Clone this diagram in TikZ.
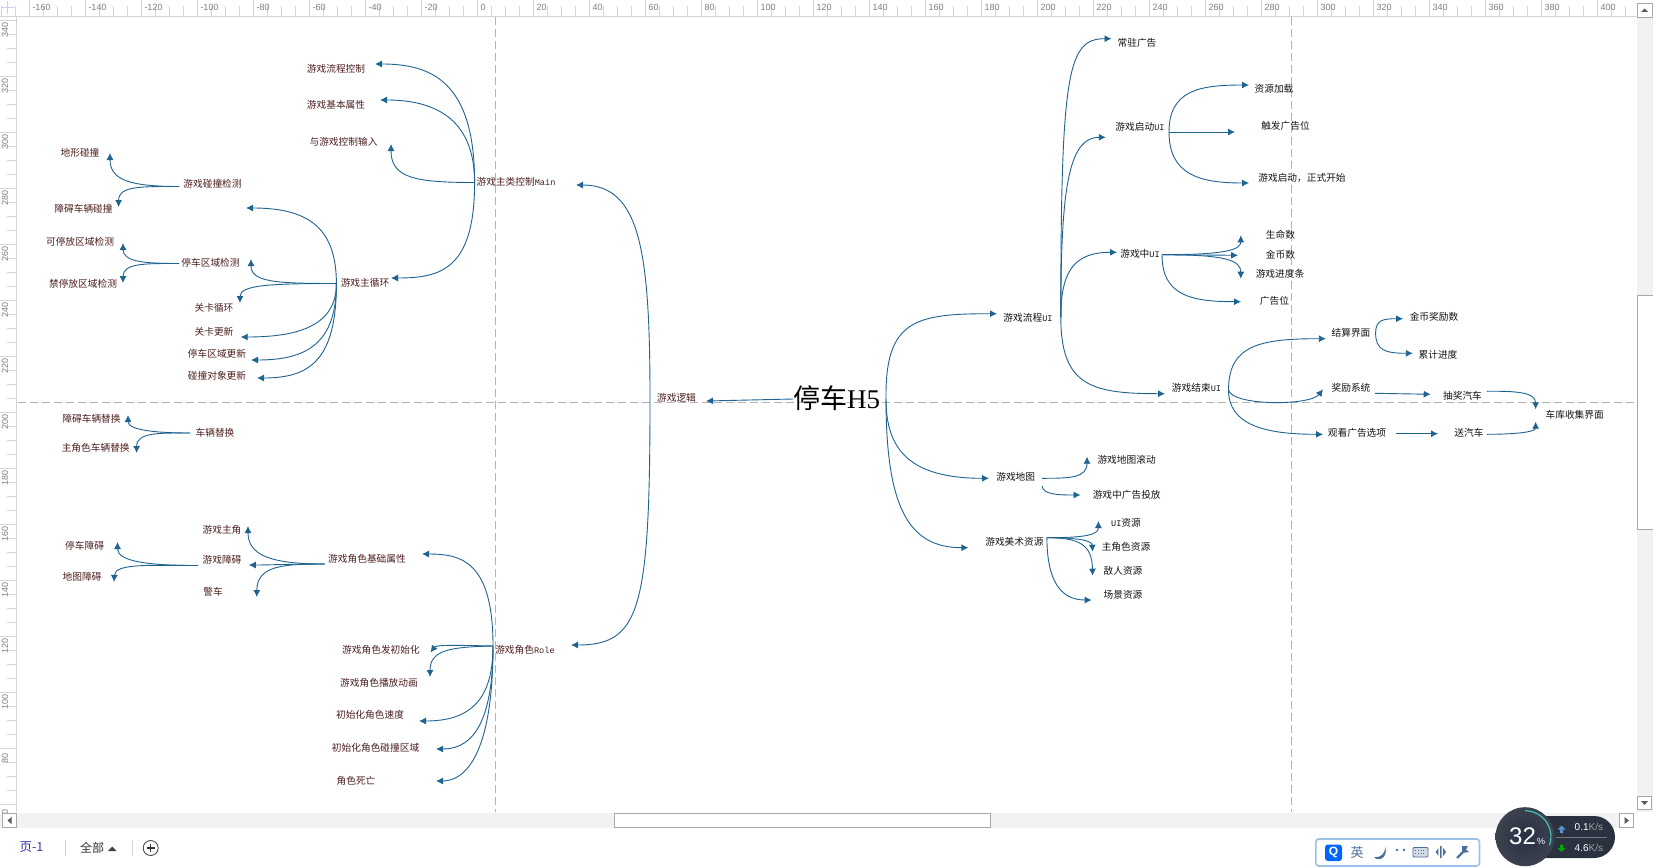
\documentclass[tikz,border=0pt]{standalone}
\usepackage{fontspec}
\usetikzlibrary{arrows.meta}
\setmainfont{Noto Sans CJK SC}
\newfontfamily\latf{Liberation Mono}
\newfontfamily\serf{Liberation Serif}
\newfontfamily\uif{Liberation Sans}
\definecolor{linkc}{HTML}{1F6391}
\definecolor{brownt}{HTML}{4D1F1F}
\definecolor{darkt}{HTML}{151515}
\definecolor{guide}{HTML}{B4B4B4}
\definecolor{rule}{HTML}{D4D4D4}
\definecolor{rulet}{HTML}{808080}
\definecolor{track}{HTML}{F2F2F2}
\definecolor{btn}{HTML}{A8A8A8}
\definecolor{imeb}{HTML}{9CC0E8}
\definecolor{imei}{HTML}{4C7099}
\definecolor{gaugeA}{HTML}{4C5262}
\definecolor{gaugeB}{HTML}{2C3140}
\tikzset{
  lblL/.style={text=brownt,inner sep=0pt,font=\fontsize{9.7}{11}\selectfont},
  lblR/.style={text=darkt,inner sep=0pt,font=\fontsize{9.7}{11}\selectfont},
  link/.style={draw=linkc,line width=0.9pt,-{Latex[length=7pt,width=7pt]}},
  guideline/.style={draw=guide,line width=0.8pt,dash pattern=on 8pt off 4pt},
  rtext/.style={text=rulet,inner sep=0pt,font=\uif\fontsize{9}{10}\selectfont},
  sbtn/.style={draw=btn,line width=0.8pt,fill=white},
  chrome/.style={inner sep=0pt}
}
\newcommand\nd[7]{\node[#1] (#2) at (#3,#4) {#5}; \coordinate (#2-in) at (#6,#7);}
\newcommand\ml[1]{{\latf\fontsize{8.6}{11}\selectfont #1}}
\begin{document}
\begin{tikzpicture}[x=1pt,y=-1pt]
\useasboundingbox (0,0) rectangle (1653,867);
\fill[white] (0,0) rectangle (1653,867);

% guides
\coordinate (gh1) at (18,402); \coordinate (gh2) at (1636,402);
\coordinate (gv1) at (495.6,17); \coordinate (gv2) at (495.6,812);
\coordinate (gw1) at (1291.5,17); \coordinate (gw2) at (1291.5,812);
\draw[guideline] (gh1) -- (gh2);
\draw[guideline] (gv1) -- (gv2);
\draw[guideline] (gw1) -- (gw2);

% rulers
\begin{scope}
\clip (0,0) rectangle (1636,16.5);
\foreach \i in {0,...,116}{\draw[rule,line width=0.8pt] ({1.3+14*\i},6) -- ({1.3+14*\i},16);}
\foreach \v in {-160,-140,...,400}{
  \draw[rule,line width=0.8pt] ({477.3+2.8*\v},0) -- ({477.3+2.8*\v},16);
  \node[rtext,anchor=west] (hx\v) at ({480.3+2.8*\v},7) {\v};
}
\end{scope}
\begin{scope}
\clip (0,17) rectangle (16.5,812);
\foreach \i in {0,...,58}{\draw[rule,line width=0.8pt] (7,{20.3+14*\i}) -- (16,{20.3+14*\i});}
\foreach \v in {340,320,...,60}{
  \draw[rule,line width=0.8pt] (0,{972.3-2.8*\v}) -- (16,{972.3-2.8*\v});
  \node[rtext,rotate=90] (vy\v) at (5,{982.3-2.8*\v}) {\v};
}
\end{scope}
\draw[rule,line width=0.9pt] (16.5,17) -- (16.5,812);
\draw[rule,line width=0.9pt] (0,16.5) -- (1636,16.5);
\draw[blue!20,line width=0.8pt] (7.5,1) -- (7.5,14) (1,7.5) -- (14,7.5);

% scrollbars
\fill[track] (1637,17) rectangle (1653,812);
\draw[sbtn] (1637.5,3) rectangle (1652,17);
\fill[gray!70!black] (1641,12) -- (1648,12) -- (1644.5,8.5) -- cycle;
\draw[sbtn] (1637.5,295) rectangle (1653,529);
\draw[sbtn] (1637.7,796) rectangle (1651.7,809.5);
\fill[gray!70!black] (1641,801) -- (1648,801) -- (1644.5,805) -- cycle;
\fill[track] (0,813) rectangle (1634,828);
\draw[sbtn] (2.5,813.5) rectangle (16.7,827.7);
\fill[gray!70!black] (11.5,817) -- (11.5,824) -- (7.5,820.5) -- cycle;
\draw[sbtn] (614.5,813.5) rectangle (990,827.7);
\draw[sbtn] (1619.7,813.5) rectangle (1633.7,827.7);
\fill[gray!70!black] (1624.5,817) -- (1624.5,824) -- (1629,820.5) -- cycle;

% root
\node[inner sep=0pt,text=black,font=\fontsize{27}{30}\selectfont] (root) at (836.5,398) {停车{\serf H5}};
\coordinate (root-l) at (793,399);
\coordinate (root-r) at (886,399);

% logic branch
\nd{lblL}{logic}{676.5}{398}{游戏逻辑}{706}{401}
\coordinate (logic-out) at (650,399);

\nd{lblL}{main}{516}{182}{游戏主类控制\ml{Main}}{576}{185}
\coordinate (main-out) at (474.6,182.5);
\nd{lblL}{flowctl}{336}{68.5}{游戏流程控制}{375}{64}
\nd{lblL}{baseattr}{336}{104.5}{游戏基本属性}{380}{100}
\nd{lblL}{input}{343.5}{142}{与游戏控制输入}{391}{144}
\nd{lblL}{loop}{365}{283}{游戏主循环}{391}{278}
\coordinate (loop-out) at (336.4,283.5);
\nd{lblL}{collide}{212.5}{184}{游戏碰撞检测}{246}{208}
\coordinate (collide-out) at (179,186.5);
\nd{lblL}{parkchk}{210.5}{263}{停车区域检测}{251}{259}
\coordinate (parkchk-out) at (179,263.5);
\nd{lblL}{lvloop}{214}{308}{关卡循环}{240}{303}
\nd{lblL}{lvupd}{214}{332}{关卡更新}{240.7}{337}
\nd{lblL}{parkupd}{217}{354}{停车区域更新}{251}{360}
\nd{lblL}{objupd}{217}{376}{碰撞对象更新}{257}{378}
\nd{lblL}{terrain}{80}{153}{地形碰撞}{110}{153}
\nd{lblL}{obscar}{83.5}{209}{障碍车辆碰撞}{118.6}{207}
\nd{lblL}{canpark}{80}{242}{可停放区域检测}{123}{243}
\nd{lblL}{nopark}{83}{284}{禁停放区域检测}{123}{283}

\coordinate (swap-out) at (190,433);
\node[lblL] (swap) at (215,433) {车辆替换};
\nd{lblL}{swapobs}{91.5}{419}{障碍车辆替换}{128}{415}
\nd{lblL}{swaphero}{95.7}{448}{主角色车辆替换}{136.6}{453}

\nd{lblL}{role}{525}{650}{游戏角色\ml{Role}}{571}{645}
\coordinate (role-out) at (493,646);
\nd{lblL}{rolebase}{367}{559}{游戏角色基础属性}{422}{554}
\coordinate (rolebase-out) at (324.5,564);
\nd{lblL}{hero}{222}{530}{游戏主角}{248}{526}
\nd{lblL}{obst}{222}{560}{游戏障碍}{248.8}{565}
\coordinate (obst-out) at (198,565.5);
\nd{lblL}{police}{213}{592}{警车}{256.8}{597}
\nd{lblL}{parkobs}{84.6}{546}{停车障碍}{117.5}{542}
\nd{lblL}{mapobs}{82}{577}{地图障碍}{114}{582}
\nd{lblL}{roleinit}{381}{650}{游戏角色发初始化}{430.5}{652.5}
\nd{lblL}{roleanim}{379}{683}{游戏角色播放动画}{430}{677}
\nd{lblL}{rolespd}{370}{715}{初始化角色速度}{419}{721}
\nd{lblL}{rolecol}{375.6}{748}{初始化角色碰撞区域}{436}{749}
\nd{lblL}{roledie}{356}{781}{角色死亡}{436}{781}

% right side
\nd{lblR}{flowui}{1028}{317.7}{游戏流程\ml{UI}}{997}{313.7}
\coordinate (flowui-out) at (1060.8,317);
\nd{lblR}{stayad}{1137}{42.7}{常驻广告}{1111.5}{38.7}
\nd{lblR}{startui}{1140}{126.7}{游戏启动\ml{UI}}{1105.8}{137.3}
\coordinate (startui-out) at (1169,132);
\nd{lblR}{resload}{1274}{88.7}{资源加载}{1249}{85}
\nd{lblR}{adtrig}{1285.5}{126}{触发广告位}{1235}{132}
\nd{lblR}{gostart}{1302}{177.7}{游戏启动，正式开始}{1249}{183}
\nd{lblR}{ingame}{1140}{253.7}{游戏中\ml{UI}}{1117}{252.3}
\coordinate (ingame-out) at (1162,254.7);
\nd{lblR}{lives}{1280.5}{235}{生命数}{1240.8}{235.3}
\nd{lblR}{coins}{1280.5}{255}{金币数}{1238}{255.3}
\nd{lblR}{progress}{1280}{274}{游戏进度条}{1240.8}{278.7}
\nd{lblR}{adslot}{1274.5}{301}{广告位}{1241}{301.7}
\nd{lblR}{endui}{1196.5}{387.7}{游戏结束\ml{UI}}{1165}{393.7}
\coordinate (endui-out) at (1228.5,390);
\nd{lblR}{settle}{1351}{332.7}{结算界面}{1325.8}{338.7}
\coordinate (settle-out) at (1375.6,333);
\nd{lblR}{reward}{1434}{317}{金币奖励数}{1403}{318.7}
\nd{lblR}{totalp}{1438}{355}{累计进度}{1412.8}{353.3}
\nd{lblR}{prize}{1351}{387.7}{奖励系统}{1323}{389.3}
\coordinate (prize-out) at (1375,393.3);
\nd{lblR}{draw}{1462.5}{396}{抽奖汽车}{1430.7}{394.3}
\coordinate (draw-out) at (1487,391.3);
\nd{lblR}{watch}{1357}{432.7}{观看广告选项}{1323}{434.3}
\coordinate (watch-out) at (1396,433.7);
\nd{lblR}{gift}{1469}{432.7}{送汽车}{1438}{433.7}
\coordinate (gift-out) at (1487,434.3);
\node[lblR] (garage) at (1574.7,415) {车库收集界面};
\coordinate (garage-a) at (1535.6,409.3);
\coordinate (garage-b) at (1535.6,421.7);
\nd{lblR}{map}{1015.7}{477}{游戏地图}{989}{478.3}
\coordinate (map-out) at (1042,478.3);
\coordinate (map-out2) at (1042,486);
\nd{lblR}{mapscroll}{1126.6}{460}{游戏地图滚动}{1087}{456.7}
\nd{lblR}{mapad}{1126.7}{495}{游戏中广告投放}{1080.5}{495}
\nd{lblR}{art}{1014.4}{541.7}{游戏美术资源}{968.4}{547.7}
\coordinate (art-out) at (1046.9,537.7);
\nd{lblR}{uires}{1126}{522.7}{\ml{UI}资源}{1098.4}{521}
\nd{lblR}{herores}{1126}{547}{主角色资源}{1092.6}{551.7}
\nd{lblR}{enemy}{1123}{571}{敌人资源}{1092.6}{575.7}
\nd{lblR}{scene}{1123}{595}{场景资源}{1091.7}{600}

% connectors: left half
\draw[link] (root-l) -- (logic-in);
\draw[link] (logic-out) .. controls (650,250) and (640,185) .. (main-in);
\draw[link] (logic-out) .. controls (650,610) and (640,645) .. (role-in);
\draw[link] (main-out) .. controls (474.6,80) and (430,64) .. (flowctl-in);
\draw[link] (main-out) .. controls (474.6,115) and (430,100) .. (baseattr-in);
\draw[link] (main-out) .. controls (415,182.5) and (391,178) .. (input-in);
\draw[link] (main-out) .. controls (474.6,270) and (440,278) .. (loop-in);
\draw[link] (loop-out) .. controls (336.4,225) and (305,208) .. (collide-in);
\draw[link] (loop-out) .. controls (275,283.5) and (251,282) .. (parkchk-in);
\draw[link] (loop-out) .. controls (270,283.5) and (240,285) .. (lvloop-in);
\draw[link] (loop-out) .. controls (336.4,325) and (300,337) .. (lvupd-in);
\draw[link] (loop-out) .. controls (336.4,345) and (305,360) .. (parkupd-in);
\draw[link] (loop-out) .. controls (336.4,360) and (310,378) .. (objupd-in);
\draw[link] (collide-out) .. controls (130,186.5) and (110,180) .. (terrain-in);
\draw[link] (collide-out) .. controls (140,186.5) and (118.6,186) .. (obscar-in);
\draw[link] (parkchk-out) .. controls (145,263.5) and (123,262) .. (canpark-in);
\draw[link] (parkchk-out) .. controls (145,263.5) and (123,263) .. (nopark-in);
\draw[link] (swap-out) .. controls (155,433) and (128,430) .. (swapobs-in);
\draw[link] (swap-out) .. controls (160,433) and (136.6,432) .. (swaphero-in);
\draw[link] (role-out) .. controls (493,560) and (460,554) .. (rolebase-in);
\draw[link] (rolebase-out) .. controls (270,564) and (248,555) .. (hero-in);
\draw[link] (rolebase-out) .. controls (290,564) and (270,565) .. (obst-in);
\draw[link] (rolebase-out) .. controls (285,564) and (256.8,565) .. (police-in);
\draw[link] (obst-out) .. controls (150,565.5) and (117.5,562) .. (parkobs-in);
\draw[link] (obst-out) .. controls (150,565.5) and (115,563) .. (mapobs-in);
\draw[link] (role-out) .. controls (450,645) and (436,645) .. (roleinit-in);
\draw[link] (role-out) .. controls (450,647) and (430,650) .. (roleanim-in);
\draw[link] (role-out) .. controls (493,700) and (470,721) .. (rolespd-in);
\draw[link] (role-out) .. controls (493,735) and (465,749) .. (rolecol-in);
\draw[link] (role-out) .. controls (493,755) and (465,781) .. (roledie-in);

% connectors: right half
\draw[link] (root-r) .. controls (885,320) and (915,313.7) .. (flowui-in);
\draw[link] (root-r) .. controls (886,450) and (910,478.3) .. (map-in);
\draw[link] (root-r) .. controls (886,510) and (910,547.7) .. (art-in);
\draw[link] (flowui-out) .. controls (1060.8,70) and (1068,38.7) .. (stayad-in);
\draw[link] (flowui-out) .. controls (1060.8,190) and (1068,137.3) .. (startui-in);
\draw[link] (flowui-out) .. controls (1060.8,270) and (1075,252.3) .. (ingame-in);
\draw[link] (flowui-out) .. controls (1060.8,385) and (1090,393.7) .. (endui-in);
\draw[link] (startui-out) .. controls (1169,90) and (1200,85) .. (resload-in);
\draw[link] (startui-out) -- (adtrig-in);
\draw[link] (startui-out) .. controls (1169,175) and (1200,183) .. (gostart-in);
\draw[link] (ingame-out) .. controls (1225,254.7) and (1240.8,250) .. (lives-in);
\draw[link] (ingame-out) -- (coins-in);
\draw[link] (ingame-out) .. controls (1225,254.7) and (1240.8,260) .. (progress-in);
\draw[link] (ingame-out) .. controls (1162,295) and (1190,301.7) .. (adslot-in);
\draw[link] (endui-out) .. controls (1228.5,345) and (1260,338.7) .. (settle-in);
\draw[link] (endui-out) .. controls (1232,406) and (1310,406) .. (prize-in);
\draw[link] (endui-out) .. controls (1228.5,425) and (1265,434.3) .. (watch-in);
\draw[link] (settle-out) .. controls (1375.6,320) and (1383,318.7) .. (reward-in);
\draw[link] (settle-out) .. controls (1375.6,350) and (1385,353.3) .. (totalp-in);
\draw[link] (prize-out) -- (draw-in);
\draw[link] (watch-out) -- (gift-in);
\draw[link] (draw-out) .. controls (1515,391) and (1535.6,392) .. (garage-a);
\draw[link] (gift-out) .. controls (1515,434.3) and (1535.6,432) .. (garage-b);
\draw[link] (map-out) .. controls (1070,478.3) and (1087,478) .. (mapscroll-in);
\draw[link] (map-out2) .. controls (1043,495) and (1060,495) .. (mapad-in);
\draw[link] (art-out) .. controls (1085,537.7) and (1098.4,535) .. (uires-in);
\draw[link] (art-out) .. controls (1075,537.7) and (1092,540) .. (herores-in);
\draw[link] (art-out) .. controls (1080,537.7) and (1092,545) .. (enemy-in);
\draw[link] (art-out) .. controls (1047,580) and (1060,600) .. (scene-in);

% bottom tabs
\node[chrome,text=blue!55!black!80,font=\fontsize{12.5}{14}\selectfont] (tab1) at (31.5,847.5) {页-1};
\draw[rule,line width=0.8pt] (65.7,840) -- (65.7,856);
\node[chrome,text=black!80,font=\fontsize{12}{14}\selectfont] (taball) at (92,847.5) {全部};
\fill[black!75] (108,851) -- (116.5,851) -- (112.3,846.5) -- cycle;
\draw[rule,line width=0.8pt] (132.3,840) -- (132.3,856);
\draw[black!70,line width=0.9pt] (150.7,848) circle (7.5);
\draw[black!80,line width=1.3pt] (146.7,848) -- (154.7,848) (150.7,844) -- (150.7,852);

% input method bar
\draw[imeb,line width=1.6pt,fill=white,rounded corners=3pt] (1315.8,839) rectangle (1479.5,866);
\fill[blue!60!cyan,rounded corners=3pt] (1325,844.5) rectangle (1342,861);
\node[chrome,text=white,font=\uif\bfseries\fontsize{12}{13}\selectfont] (imeq) at (1333.5,852.7) {Q};
\node[chrome,text=imei,font=\fontsize{13}{14}\selectfont] (imey) at (1357,852.5) {英};
\fill[imei] (1385,846) .. controls (1386,853) and (1381,858) .. (1374,857) .. controls (1377,862) and (1389,859) .. cycle;
\fill[imei] (1397,850) circle (1.4) (1404,850) circle (1.4);
\draw[imei,line width=0.9pt,fill=imei!25,rounded corners=1pt] (1413,847.5) rectangle (1428,857);
\draw[imei,line width=0.8pt,dotted] (1415,850.5) -- (1426,850.5) (1415,853.5) -- (1426,853.5);
\fill[imei] (1440,846) rectangle (1441.6,858) (1443.2,848) -- (1446,852) -- (1443.2,856) -- cycle (1438.4,848) -- (1435.6,852) -- (1438.4,856) -- cycle;
\draw[imei,line width=2.4pt] (1457,858) -- (1464,851);
\fill[imei] (1462,846) -- (1468,846) -- (1466,849.5) -- (1469,852) -- (1462,853) -- cycle;

% performance gauge
\fill[gaugeB,rounded corners=21pt] (1510,816) rectangle (1615,858);
\draw[white!35!gaugeB,line width=0.5pt] (1556,837) -- (1607,837);
\shade[inner color=gaugeA!120,outer color=gaugeA!80!black] (1525,836.7) circle (29.5);
\draw[cyan!60!green!75,line width=1.2pt] (1525,810.7) arc[start angle=-90,end angle=20,radius=26];
\node[chrome,text=white,font=\uif\fontsize{24}{25}\selectfont] (gpct) at (1522.5,836) {32};
\node[chrome,text=white,font=\uif\fontsize{9}{10}\selectfont] (gsym) at (1541,841.7) {\%};
\fill[cyan!55!blue!70] (1561.5,825.5) -- (1565.5,829.5) -- (1563,829.5) -- (1563,833) -- (1560,833) -- (1560,829.5) -- (1557.5,829.5) -- cycle;
\fill[green!65!black] (1561.5,852) -- (1565.5,848) -- (1563,848) -- (1563,844.5) -- (1560,844.5) -- (1560,848) -- (1557.5,848) -- cycle;
\node[chrome,anchor=west,font=\uif\fontsize{10}{11}\selectfont,text=white] (gup) at (1574.5,827) {0.1\textcolor{white!55!gaugeB}{K/s}};
\node[chrome,anchor=west,font=\uif\fontsize{10}{11}\selectfont,text=white] (gdown) at (1574.5,848) {4.6\textcolor{white!55!gaugeB}{K/s}};
\end{tikzpicture}
\end{document}
